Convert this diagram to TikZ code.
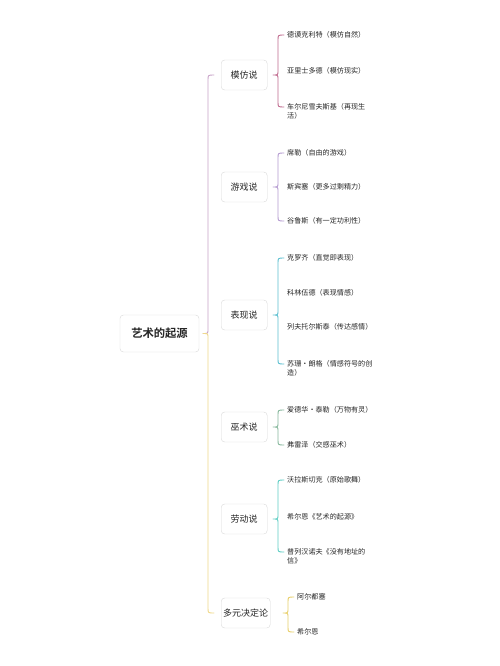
\documentclass[tikz,border=0pt]{standalone}
\usepackage{fontspec}
\newfontfamily\cjk{Noto Sans CJK SC}[BoldFont={Noto Sans CJK SC Bold}]
\usetikzlibrary{calc}
\definecolor{cmainA}{HTML}{C9A3C9}
\definecolor{cmainB}{HTML}{F0D98A}
\definecolor{cA}{HTML}{C06A8E}
\definecolor{cB}{HTML}{B49AD0}
\definecolor{cC}{HTML}{5BBFD0}
\definecolor{cD}{HTML}{86B89C}
\definecolor{cE}{HTML}{5ECEC4}
\definecolor{cF}{HTML}{E8CF6A}
\definecolor{boxgray}{HTML}{D9D9D9}
\definecolor{txt}{HTML}{262626}
\newcommand\mybrace[4]{%
 \draw[br,#1] let \p1=(#2.east), \p2=($(#3)+(-9pt,0)$), \p3=($(#4)+(-9pt,0)$) in
 ($(#3)+(-3pt,0)$) .. controls (\x2,\y2) .. (\x2,\y2-5pt) -- (\x2,\y1+4pt) .. controls (\x2,\y1) .. (\x2-5pt,\y1) .. controls (\x2,\y1) .. (\x2,\y1-4pt) -- (\x2,\y3+5pt) .. controls (\x2,\y3) .. ($(#4)+(-3pt,0)$);}
\begin{document}
\begin{tikzpicture}[x=1pt,y=-1pt,
 rootbox/.style={draw=boxgray, fill=white, rounded corners=3.5pt, minimum width=79pt, minimum height=37pt, font=\cjk\bfseries\fontsize{11.3}{13}\selectfont, text=txt},
 topicbox/.style={draw=boxgray, fill=white, rounded corners=3.5pt, minimum width=46pt, minimum height=30pt, inner xsep=2pt, font=\cjk\fontsize{9}{11}\selectfont, text=txt, anchor=west},
 leaf/.style={inner sep=0pt, anchor=west, align=left, font=\cjk\fontsize{7.1}{8.6}\selectfont, text=txt},
 br/.style={line width=0.9pt, line cap=round, line join=round}]
\useasboundingbox[fill=white] (0,0) rectangle (500,666);
% root
\node[rootbox] (root) at (159.5,333.5) {艺术的起源};
% topics
\node[topicbox] (t1) at (221,75) {模仿说};
\node[topicbox] (t2) at (221,187) {游戏说};
\node[topicbox] (t3) at (221,315) {表现说};
\node[topicbox] (t4) at (221,427) {巫术说};
\node[topicbox] (t5) at (221,519) {劳动说};
\node[topicbox] (t6) at (221,613) {多元决定论};
% leaves
\node[leaf] (a1) at (287,35) {德谟克利特（模仿自然）};
\node[leaf] (a2) at (287,71) {亚里士多德（模仿现实）};
\node[leaf] (a3) at (287,111.3) {车尔尼雪夫斯基（再现生\\活）};
\coordinate (a3e) at ($(a3.west)+(0,4.3pt)$);
\node[leaf] (b1) at (287,153) {席勒（自由的游戏）};
\node[leaf] (b2) at (287,187) {斯宾塞（更多过剩精力）};
\node[leaf] (b3) at (287,221) {谷鲁斯（有一定功利性）};
\node[leaf] (c1) at (287,258) {克罗齐（直觉即表现）};
\node[leaf] (c2) at (287,293) {科林伍德（表现情感）};
\node[leaf] (c3) at (287,327) {列夫托尔斯泰（传达感情）};
\node[leaf] (c4) at (287,368.3) {苏珊・朗格（情感符号的创\\造）};
\coordinate (c4e) at ($(c4.west)+(0,4.3pt)$);
\node[leaf] (d1) at (287,410) {爱德华・泰勒（万物有灵）};
\node[leaf] (d2) at (287,445) {弗雷泽（交感巫术）};
\node[leaf] (e1) at (287,480) {沃拉斯切克（原始歌舞）};
\node[leaf] (e2) at (287,517) {希尔恩《艺术的起源》};
\node[leaf] (e3) at (287,556.3) {普列汉诺夫《没有地址的\\信》};
\coordinate (e3e) at ($(e3.west)+(0,4.3pt)$);
\node[leaf] (f1) at (297,597) {阿尔都塞};
\node[leaf] (f2) at (297,632) {希尔恩};
% main brace
\draw[br,cmainA] let \p1=(root.east), \p2=($(t1.west)+(-13pt,0)$) in
 ($(t1.west)+(-7pt,0)$) .. controls (\x2,\y2) .. (\x2,\y2-5pt) -- (\x2,\y1+4pt) .. controls (\x2,\y1) .. (\x2-5pt,\y1);
\draw[br,cmainB] let \p1=(root.east), \p3=($(t6.west)+(-13pt,0)$) in
 (\x3-5pt,\y1) .. controls (\x3,\y1) .. (\x3,\y1-4pt) -- (\x3,\y3+5pt) .. controls (\x3,\y3) .. ($(t6.west)+(-7pt,0)$);
% sub braces
\mybrace{cA}{t1}{a1.west}{a3e}
\mybrace{cB}{t2}{b1.west}{b3.west}
\mybrace{cC}{t3}{c1.west}{c4e}
\mybrace{cD}{t4}{d1.west}{d2.west}
\mybrace{cE}{t5}{e1.west}{e3e}
\mybrace{cF}{t6}{f1.west}{f2.west}
\end{tikzpicture}
\end{document}
